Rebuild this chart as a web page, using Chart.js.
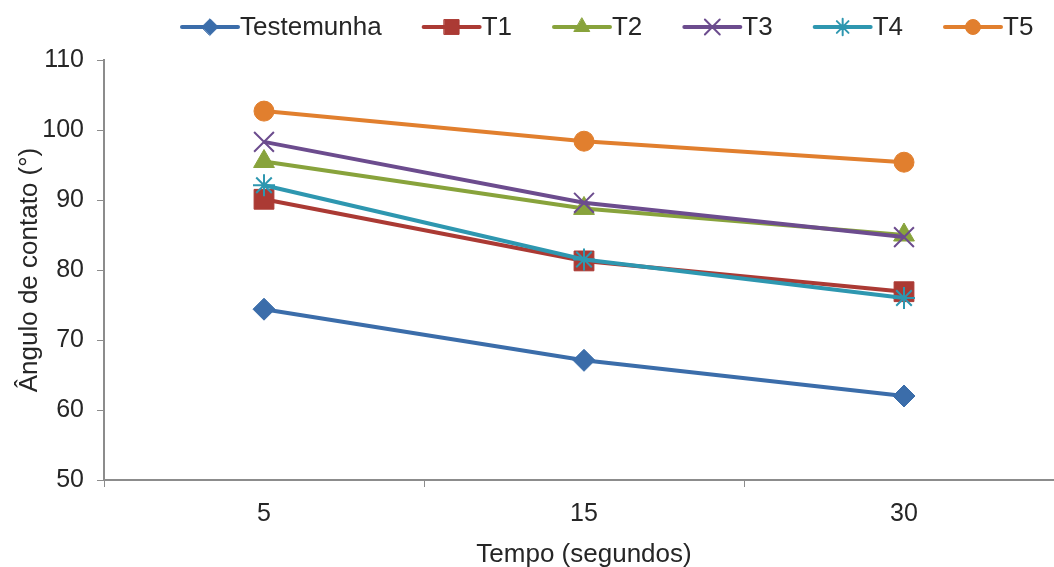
<!DOCTYPE html>
<html>
<head>
<meta charset="utf-8">
<script src="https://cdn.jsdelivr.net/npm/chart.js@4.4.1/dist/chart.umd.min.js"></script>
<style>
  html, body { margin: 0; padding: 0; background: #fff; overflow: hidden; }
  /* the plot area runs a little past the right edge of the picture */
  #wrap { width: 1080px; height: 567px; }
  canvas { display: block; }
</style>
</head>
<body>
<div id="wrap"><canvas id="line-chart"></canvas></div>
<script>
// tempo (s) on x, contact angle (degrees) on y
const tempos = ['5', '15', '30'];
const testemunha = [74.4, 67.1, 62.0];
const t1 = [90.1, 81.3, 76.9];
const t2 = [95.5, 88.8, 85.0];
const t3 = [98.3, 89.6, 84.7];
const t4 = [92.1, 81.5, 76.0];
const t5 = [102.7, 98.4, 95.4];
const yTicks = [50, 60, 70, 80, 90, 100, 110];

const textColor = '#262626';
const axisColor = '#8c8c8c';
const fontFamily = "'Liberation Sans', Arial, sans-serif";

function serie(label, data, color, style, radius, borderWidth) {
  return {
    label: label,
    data: data,
    borderColor: color,
    backgroundColor: color,
    borderWidth: 4,
    tension: 0,
    fill: false,
    pointStyle: style,
    pointRadius: radius,
    pointHoverRadius: radius,
    pointBorderWidth: borderWidth,
    pointBackgroundColor: color,
    pointBorderColor: color
  };
}

const datasets = [
  serie('Testemunha', testemunha, '#3b6daa', 'rectRot', 11, 1),
  serie('T1', t1, '#ab3a34', 'rect', 14, 1),
  serie('T2', t2, '#88a33c', 'triangle', 12, 1),
  serie('T3', t3, '#6c4c8e', 'crossRot', 14, 2),
  serie('T4', t4, '#2e97b0', 'star', 11, 2),
  serie('T5', t5, '#e17f2e', 'circle', 10, 1)
];
// later series are painted on top
datasets.forEach((d, i) => { d.order = datasets.length - i; });

// excel style legend: short line with the marker on it, then the name
const excelLegend = {
  id: 'excelLegend',
  afterDraw(chart, args, opts) {
    const ctx = chart.ctx;
    ctx.save();
    ctx.font = '26px ' + fontFamily;
    ctx.textBaseline = 'middle';
    let x = opts.x;
    const y = opts.y;
    chart.data.datasets.forEach(ds => {
      ctx.strokeStyle = ds.borderColor;
      ctx.fillStyle = ds.borderColor;
      ctx.lineWidth = 4;
      ctx.lineCap = 'round';
      ctx.beginPath();
      ctx.moveTo(x + 2, y);
      ctx.lineTo(x + 58, y);
      ctx.stroke();
      ctx.lineWidth = ds.pointBorderWidth;
      Chart.helpers.drawPoint(ctx, {
        pointStyle: ds.pointStyle,
        radius: ds.pointRadius * 0.75,
        rotation: 0,
        borderWidth: ds.pointBorderWidth
      }, x + 30, y);
      ctx.fillStyle = textColor;
      ctx.fillText(ds.label, x + 60, y + 1);
      x += 60 + ctx.measureText(ds.label).width + 40;
    });
    ctx.restore();
  }
};

new Chart(document.getElementById('line-chart'), {
  type: 'line',
  data: { labels: tempos, datasets: datasets },
  plugins: [excelLegend],
  options: {
    responsive: true,
    maintainAspectRatio: false,
    animation: false,
    layout: { padding: { top: 60, right: 0, left: 0, bottom: 0 } },
    plugins: {
      tooltip: { enabled: false },
      legend: { display: false },
      excelLegend: { x: 180, y: 27 }
    },
    scales: {
      x: {
        offset: true,
        afterFit: scale => { scale.height = 87; },
        grid: {
          offset: true,
          drawOnChartArea: false,
          drawTicks: true,
          tickLength: 7,
          color: axisColor
        },
        border: { color: axisColor, width: 2 },
        ticks: {
          color: textColor,
          padding: 12,
          font: { family: fontFamily, size: 25 }
        },
        title: {
          display: true,
          text: 'Tempo (segundos)',
          color: textColor,
          padding: { top: 4, bottom: -3 },
          font: { family: fontFamily, size: 26 }
        }
      },
      y: {
        min: 50,
        max: 110,
        afterFit: scale => { scale.width = 104; },
        afterBuildTicks: scale => { scale.ticks = yTicks.map(v => ({ value: v })); },
        grid: {
          drawOnChartArea: false,
          drawTicks: true,
          tickLength: 7,
          color: axisColor
        },
        border: { color: axisColor, width: 2 },
        ticks: {
          color: textColor,
          padding: 13,
          font: { family: fontFamily, size: 25 }
        },
        title: {
          display: true,
          text: 'Ângulo de contato (°)',
          color: textColor,
          padding: { top: 14, bottom: 0 },
          font: { family: fontFamily, size: 26 }
        }
      }
    }
  }
});
</script>
</body>
</html>
